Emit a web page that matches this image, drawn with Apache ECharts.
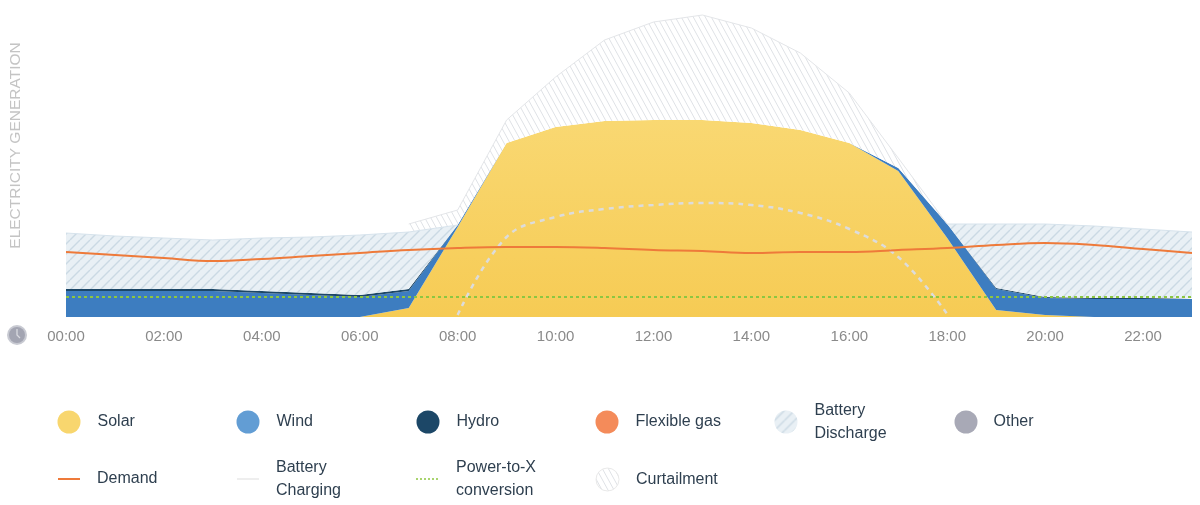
<!DOCTYPE html>
<html>
<head>
<meta charset="utf-8">
<title>Electricity generation</title>
<script src="https://cdn.jsdelivr.net/npm/echarts@6/dist/echarts.min.js"></script>
<style>
  html, body { margin: 0; padding: 0; background: #fff; }
  #main { width: 1200px; height: 505px; }
</style>
</head>
<body>
<div id="main"></div>
<script>
// hours on the x axis
var hours = ['00:00','01:00','02:00','03:00','04:00','05:00','06:00','07:00','08:00','09:00','10:00','11:00',
             '12:00','13:00','14:00','15:00','16:00','17:00','18:00','19:00','20:00','21:00','22:00','23:00'];

// stacked generation (arbitrary units)
var solar     = [0, 0, 0, 0, 0, 0, 0, 9, 90, 174, 190, 196, 197, 197, 194, 187, 174, 146, 79, 7, 2, 0, 0, 0];
var wind      = [26, 26, 26, 26, 24, 22, 20, 17, 2, 0, 0, 0, 0, 0, 0, 0, 0, 3, 14, 21, 17, 18, 18, 18];
var hydro     = [2, 2, 2, 2, 2, 2, 2, 2, 0, 0, 0, 0, 0, 0, 0, 0, 0, 0, 0, 1, 1, 1, 1, 1];
var discharge = [56, 53, 51, 49, 53, 56, 60, 57, 0, null, null, null, null, null, null, null, null, null, 0, 64, 73, 72, 69, 66];
var curtail   = [null, null, null, null, null, null, null, 8, 15, 23, 50, 81, 98, 105, 95, 77, 50, 10, 0, null, null, null, null, null];

// lines
var charging  = [null, null, null, null, null, null, null, null, 2, 80, 100, 108, 112, 114, 112, 104, 88, 60, 3, null, null, null, null, null];
var demand    = [65, 62, 59, 56, 58, 61, 64, 67, 69, 70, 70, 69, 67, 66, 64, 65, 65, 67, 69, 72, 74, 72, 68, 64];
var powerToX  = [20, 20, 20, 20, 20, 20, 20, 20, 20, 20, 20, 20, 20, 20, 20, 20, 20, 20, 20, 20, 20, 20, 20, 20];

var FONT = '"Liberation Sans", Arial, sans-serif';

// striped fill, dir 1 = "/" , dir -1 = "\"
function hatch(bg, stroke, w, h, dir, lw) {
    var c = document.createElement('canvas');
    c.width = w; c.height = h;
    var ctx = c.getContext('2d');
    ctx.fillStyle = bg;
    ctx.fillRect(0, 0, w, h);
    ctx.strokeStyle = stroke;
    ctx.lineWidth = lw;
    for (var k = -1; k <= 1; k++) {
        ctx.beginPath();
        if (dir > 0) { ctx.moveTo(k * w, h); ctx.lineTo(k * w + w, 0); }
        else { ctx.moveTo(k * w, 0); ctx.lineTo(k * w + w, h); }
        ctx.stroke();
    }
    return { image: c, repeat: 'repeat' };
}

// dotted fill for the small legend line
function dots(color, on, off) {
    var c = document.createElement('canvas');
    c.width = on + off; c.height = 2;
    var ctx = c.getContext('2d');
    ctx.fillStyle = color;
    ctx.fillRect(0, 0, on, 2);
    return { image: c, repeat: 'repeat' };
}

var dischargeFill = hatch('#e9f0f5', '#cbd9e4', 10, 10, 1, 1.4);
var curtailFill = hatch('#ffffff', '#dfe2e6', 6, 11, -1, 1);

var myChart = echarts.init(document.getElementById('main'));

function legendItem(name, left, top, opts) {
    var d = { name: name };
    if (opts.icon) d.icon = opts.icon;
    if (opts.itemStyle) d.itemStyle = opts.itemStyle;
    var l = {
        left: left, top: top, padding: 0, orient: 'horizontal',
        selectedMode: false,
        itemWidth: opts.w || 23, itemHeight: opts.h || 23,
        textStyle: { color: '#2e3f4f', fontSize: 16, fontFamily: FONT, lineHeight: 23, padding: [0, 0, 0, opts.pad || 12] },
        data: [d]
    };
    if (opts.label) l.formatter = opts.label;
    return l;
}

var option = {
    animation: false,
    grid: { left: 65, right: 8, top: 0, bottom: 188 },
    xAxis: {
        type: 'category',
        data: hours,
        boundaryGap: false,
        axisLine: { show: false },
        axisTick: { show: false },
        splitLine: { show: false },
        axisLabel: { interval: 1, color: '#8a8a8a', fontSize: 15, margin: 12, fontFamily: FONT }
    },
    yAxis: {
        type: 'value',
        min: 0,
        max: 317,
        axisLine: { show: false },
        axisTick: { show: false },
        axisLabel: { show: false },
        splitLine: { show: false },
        name: 'ELECTRICITY GENERATION',
        nameLocation: 'middle',
        nameRotate: 90,
        nameGap: 42,
        nameTextStyle: { color: '#c4c4c4', fontSize: 15.5, fontFamily: FONT, padding: [0, 0, 0, 26] }
    },
    legend: [
        legendItem('Solar', 57.5, 410.5, { icon: 'circle', itemStyle: { color: '#f8d66e' } }),
        legendItem('Wind', 236.5, 410.5, { icon: 'circle', itemStyle: { color: '#629dd4' } }),
        legendItem('Hydro', 416.5, 410.5, { icon: 'circle', itemStyle: { color: '#1c4767' } }),
        legendItem('Flexible gas', 595.5, 410.5, { icon: 'circle', itemStyle: { color: '#f48b5a' } }),
        legendItem('Battery Discharge', 774.5, 399, { icon: 'circle', itemStyle: { color: dischargeFill }, label: 'Battery\nDischarge' }),
        legendItem('Other', 954.5, 410.5, { icon: 'circle', itemStyle: { color: '#a8a9b6' }, pad: 11 }),
        legendItem('Demand', 58, 467.5, { w: 22, h: 2, icon: 'rect', itemStyle: { color: '#ee7a3a' } }),
        legendItem('Battery Charging', 237, 456, { w: 22, h: 2, icon: 'rect', itemStyle: { color: '#eeeeee' }, label: 'Battery\nCharging' }),
        legendItem('Power-to-X conversion', 416, 456, { w: 22, h: 2, icon: 'rect', itemStyle: { color: dots('#a9d46f', 2, 2) }, pad: 13, label: 'Power-to-X\nconversion' }),
        legendItem('Curtailment', 595.5, 467.5, { icon: 'circle', itemStyle: { color: curtailFill, borderColor: '#e8e8e8', borderWidth: 1 } })
    ],
    graphic: [
        { type: 'circle', shape: { cx: 17, cy: 335, r: 10 }, style: { fill: '#c8cad2' } },
        { type: 'circle', shape: { cx: 17, cy: 335, r: 8 }, style: { fill: '#a3a5b2' } },
        { type: 'polyline', shape: { points: [[17, 329], [17, 335], [20, 338]] }, style: { stroke: '#d9dae0', lineWidth: 1.3, fill: null } }
    ],
    series: [
        {
            name: 'Solar', type: 'line', stack: 'gen', data: solar,
            symbol: 'none', lineStyle: { width: 0 },
            itemStyle: { color: '#f8d66e' },
            areaStyle: {
                opacity: 1,
                color: new echarts.graphic.LinearGradient(0, 0, 0, 1, [
                    { offset: 0, color: '#f9d872' },
                    { offset: 1, color: '#f6cb54' }
                ])
            }
        },
        {
            name: 'Wind', type: 'line', stack: 'gen', data: wind,
            symbol: 'none', lineStyle: { width: 0 },
            itemStyle: { color: '#3d7dc0' },
            areaStyle: { color: '#3d7dc0', opacity: 1 }
        },
        {
            name: 'Hydro', type: 'line', stack: 'gen', data: hydro,
            symbol: 'none', lineStyle: { width: 0 },
            itemStyle: { color: '#1c4767' },
            areaStyle: { color: '#1c4767', opacity: 1 }
        },
        {
            name: 'Battery Discharge', type: 'line', stack: 'gen', data: discharge,
            symbol: 'none', lineStyle: { width: 1, color: '#d7e3ec' },
            itemStyle: { color: '#dbe6ee' },
            areaStyle: { color: dischargeFill, opacity: 1 }
        },
        {
            name: 'Curtailment', type: 'line', stack: 'gen', data: curtail,
            symbol: 'none', lineStyle: { width: 1, color: '#e3e5e8' },
            itemStyle: { color: '#e3e5e8' },
            areaStyle: { color: curtailFill, opacity: 1 }
        },
        {
            name: 'Battery Charging', type: 'line', data: charging, smooth: 0.4,
            symbol: 'none',
            itemStyle: { color: '#dcdcdc' },
            lineStyle: { width: 2.5, color: '#dcdcdc', type: [5, 5] }
        },
        {
            name: 'Power-to-X conversion', type: 'line', data: powerToX,
            symbol: 'none',
            itemStyle: { color: '#8dc641' },
            lineStyle: { width: 2, color: '#8dc641', type: [3, 3] }
        },
        {
            name: 'Demand', type: 'line', data: demand, smooth: 0.4,
            symbol: 'none',
            itemStyle: { color: '#ee7a3a' },
            lineStyle: { width: 2, color: '#ee7a3a' }
        },
        { name: 'Flexible gas', type: 'line', data: [], symbol: 'none', itemStyle: { color: '#f48b5a' } },
        { name: 'Other', type: 'line', data: [], symbol: 'none', itemStyle: { color: '#a8a9b6' } }
    ]
};

myChart.setOption(option);
</script>
</body>
</html>
